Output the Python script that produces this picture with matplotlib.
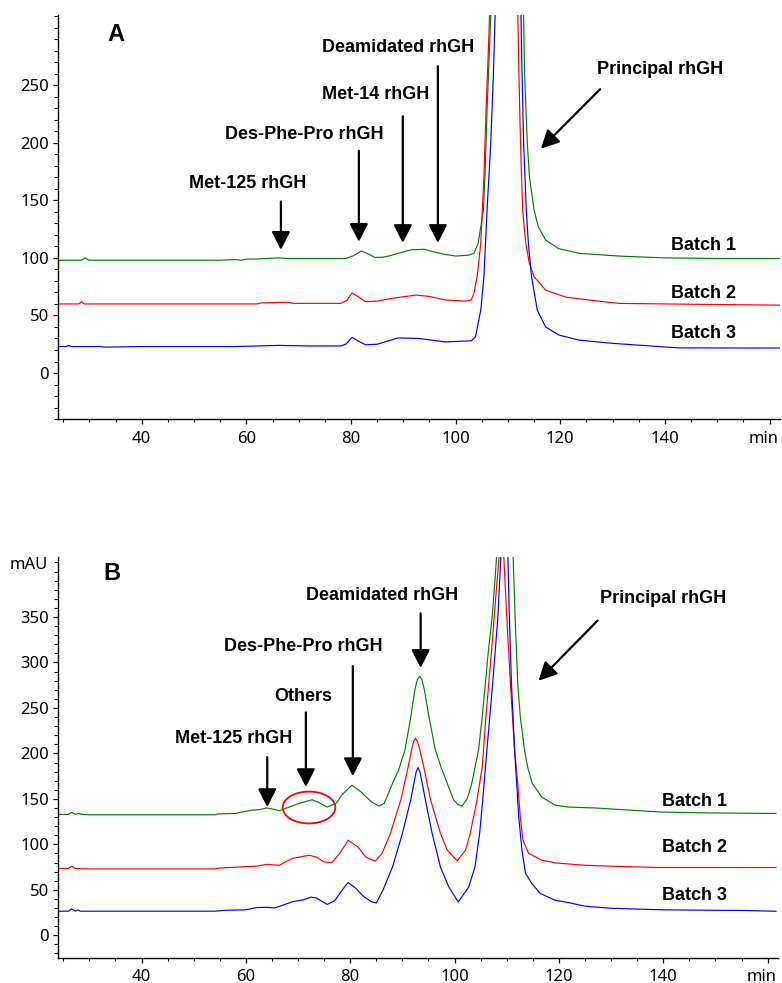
import matplotlib
matplotlib.use("Agg")
from matplotlib import pyplot as plt
from matplotlib.patches import Ellipse
from matplotlib.ticker import MultipleLocator
from matplotlib.transforms import ScaledTranslation

# ---- panel A traces (time in min, absorbance in mAU) ----
a_b1_t = [24, 28.5, 29.2, 29.9, 40, 55, 58, 59, 60, 62, 66, 68, 79, 80.5, 82, 83.5, 84.5, 86,
          87.5, 89, 91.5, 94, 96, 98, 100, 102.5, 103.5, 104.3, 105.3, 105.6, 106, 106.5,
          106.9, 110, 112.9, 113.2, 113.7, 114.1, 115, 115.8, 117.2, 119.7, 123.6, 131.2,
          140, 150, 162]
a_b1_v = [98, 98, 100, 98, 98, 98, 98.5, 98, 99, 99, 100, 99.5, 99.5, 102, 106, 103, 100.5, 100.5,
          102, 104, 107, 107.5, 105, 103, 101.6, 102.4, 104, 112.6, 141.5, 170.5, 228, 286,
          330, 1500, 330, 257, 199, 170.5, 141.5, 127, 115.5, 108, 104, 101.6,
          100, 99.5, 99.5]

a_b2_t = [24, 28, 28.5, 29, 40, 62, 63, 64, 68, 69, 78, 79.2, 80.2, 81.5, 82.8, 85, 88, 92.4,
          95, 98.1, 101.9, 103, 103.5, 104.1, 104.8, 105.4, 105.8, 106.3, 106.6, 109, 111.8,
          112.1, 112.4, 112.8, 113.4, 114.1, 115, 117.2, 121, 125.5, 131.2, 140, 150, 162]
a_b2_v = [60, 60, 62, 60, 60, 60, 61, 61, 61.5, 60.5, 60.5, 63, 69.5, 66, 62, 62.5, 65, 67.7,
          66.5, 63.4, 62.5, 63.4, 69.4, 83.6, 112.6, 170.5, 228, 286, 330, 1500, 330,
          257, 199, 141.5, 112.6, 95, 83.6, 72, 66, 63.4, 60.5, 60, 59.5, 59]

a_b3_t = [24, 25.5, 26, 26.5, 32, 33, 40, 55, 58, 62, 66, 72, 78, 79, 80.2, 81.5, 82.8, 85,
          89, 93, 98, 103, 103.8, 104.8, 105.4, 106, 106.7, 107.2, 107.6, 110, 112.4, 112.7,
          113, 113.5, 113.9, 114.5, 115.6, 117.2, 119.7, 123.6, 129.9, 142.7, 162]
a_b3_v = [23, 23, 24, 23, 23, 22.5, 23, 23, 23, 23.5, 24, 23.5, 23.5, 25, 31, 27.5, 24.5, 25,
          30.5, 30, 27, 28, 31.5, 54.7, 83.6, 141.5, 199, 257, 320, 1500, 330, 257,
          199, 141.5, 112.6, 83.6, 54.7, 40, 33, 28.6, 25.8, 21.8, 21.7]

# ---- panel B traces ----
b_b1_t = [24, 26, 26.6, 27.3, 28, 28.5, 30, 54.3, 54.5, 58, 61.2, 62.5, 64, 65, 66.4, 68.3,
          70.2, 72.7, 74, 75.6, 77.3, 78.5, 80.3, 82, 84, 85.5, 86.5, 88.1, 89.3, 90.5, 91.6,
          92.4, 92.85, 93.3, 93.75, 94.2, 95.1, 96.3, 97.4, 98.6, 99.8, 100.6, 101.4, 102.4,
          103.3, 104.6, 105.3, 105.9, 106.5, 107.2, 107.7, 108.1, 109.6, 111.2, 111.6, 112.1,
          112.6, 113.4, 114, 114.9, 116.7, 119.3, 121.8, 127, 139.6, 150, 161.6]
b_b1_v = [133, 133, 135, 133, 134, 133, 132.5, 132.5, 133.5, 134, 137.6, 138, 140, 139, 137, 141,
          145, 149, 146, 141, 145, 155, 165, 158, 147, 142, 145, 167, 182, 204, 240,
          270, 281, 285, 281, 270, 240, 204, 185, 167, 149, 144, 142, 150,
          167, 204, 240, 277, 314, 350, 387, 420, 1500, 420, 350, 277,
          240, 204, 185, 167, 152, 143, 141, 140, 135.5, 134.5, 134]

b_b2_t = [24, 26, 26.6, 27.3, 30, 54, 55, 62, 64, 66.4, 68.9, 72.1, 73.5, 75, 76.5, 78, 79.6,
          81.5, 83, 84.8, 86.1, 87.7, 89.7, 91.1, 91.8, 92.15, 92.5, 92.9, 93.3, 94.1, 95.4,
          97.3, 98.6, 100.5, 102.1, 103, 104.3, 105.3, 106, 107.1, 108.1, 108.6, 109, 109.4,
          110, 110.7, 111.5, 112.1, 112.6, 113.1, 114.2, 116.7, 119.3, 125, 130, 138.5, 161.6]
b_b2_v = [73.5, 73.5, 76, 73.5, 73, 73, 74, 76, 78, 77, 84.5, 88, 86, 80.6, 80, 90, 104.6,
          97, 86, 81.5, 90, 112, 149, 185, 205, 213, 216.6, 213, 205, 185, 149,
          112, 93.6, 81.9, 93.6, 112, 149, 185, 240, 314, 387, 420, 1500, 420,
          350, 277, 204, 167, 130, 104.6, 90, 82.6, 79.6, 77, 76, 74.6, 74.5]

b_b3_t = [24, 26, 26.6, 27.3, 27.8, 28.3, 30, 54, 56, 60, 62, 64, 65.5, 67, 69, 71, 72.5, 73.5,
          75.6, 77, 78.5, 79.6, 81, 82.5, 84, 85, 86.3, 88.1, 90, 91.6, 92.3, 92.65, 93, 93.35,
          93.7, 94.4, 95.7, 97.3, 98.9, 100.7, 102.7, 103.9, 104.8, 105.4, 106.2, 107.3, 108.3,
          108.9, 109.6, 110.2, 110.5, 110.9, 111.5, 112.3, 112.9, 113.6, 114.8, 116.4, 119.3,
          121.8, 125, 130, 140, 150, 155.8, 161.6]
b_b3_v = [26.5, 26.5, 29, 26.5, 28, 26.5, 26.5, 26.5, 27.5, 28, 30.5, 30.8, 30, 33, 37, 39, 42, 41,
          34, 38, 50, 58, 52, 43, 37, 35.5, 50, 75, 112, 149, 170, 180, 184.5, 180,
          170, 149, 112, 75, 53, 36.7, 53, 75, 112, 149, 204, 277, 350,
          420, 1500, 420, 350, 277, 204, 130, 94, 68, 57, 46, 38.5,
          36, 32, 29.7, 28, 27.5, 27.3, 26.4]

x_ticks = [40, 60, 80, 100, 120, 140, 160]
x_labels = ["40", "60", "80", "100", "120", "140", "min"]
a_y_ticks = [0, 50, 100, 150, 200, 250]
b_y_ticks = [0, 50, 100, 150, 200, 250, 300, 350]
batch_names = ["Batch 1", "Batch 2", "Batch 3"]
colors = ["#008000", "#ff0000", "#0000ff"]

tick_font = "Noto Sans"
lab_font = "Liberation Sans"

fig = plt.figure(figsize=(7.82, 9.83), dpi=100)
ax_a = fig.add_axes([0.0742, 0.5737, 0.9233, 0.4110])
ax_b = fig.add_axes([0.0742, 0.0254, 0.9208, 0.4080])


def style_axis(ax, yticks, ylim, xpad):
    ax.set_xlim(24, 162)
    ax.set_ylim(*ylim)
    ax.set_xticks(x_ticks)
    ax.set_xticklabels(x_labels)
    ax.set_yticks(yticks)
    ax.xaxis.set_minor_locator(MultipleLocator(5))
    ax.yaxis.set_minor_locator(MultipleLocator(10))
    for s in ["top", "right"]:
        ax.spines[s].set_visible(False)
    for s in ["left", "bottom"]:
        ax.spines[s].set_linewidth(1.0)
    ax.tick_params(axis="x", which="major", length=3.6, width=0.9, pad=xpad)
    ax.tick_params(axis="x", which="minor", length=2, width=0.8)
    ax.tick_params(axis="y", which="major", length=3.6, width=0.9, pad=3)
    ax.tick_params(axis="y", which="minor", length=2.6, width=0.8)
    for lab in ax.get_xticklabels() + ax.get_yticklabels():
        lab.set_fontfamily(tick_font)
        lab.set_fontsize(12)
    # pull "min" a little left so it stays inside the figure
    last = ax.get_xticklabels()[-1]
    last.set_transform(last.get_transform() + ScaledTranslation(-4 / 72, 0, fig.dpi_scale_trans))


def arrow(ax, tail, tip):
    ax.annotate("", xy=tip, xytext=tail,
                arrowprops=dict(arrowstyle="-|>,head_length=0.55,head_width=0.28",
                                lw=1.6, color="black", mutation_scale=20,
                                shrinkA=0, shrinkB=0))


def label(ax, x, y, s, ha="center", size=13):
    ax.text(x, y, s, ha=ha, va="center", fontsize=size, fontweight="bold",
            fontfamily=lab_font)


# panel A
for t, v, c in zip([a_b1_t, a_b2_t, a_b3_t], [a_b1_v, a_b2_v, a_b3_v], colors):
    ax_a.plot(t, v, color=c, lw=0.85)
style_axis(ax_a, a_y_ticks, (-40, 311), 5)

label(ax_a, 35, 294, "A", size=17)
label(ax_a, 60.3, 165, "Met-125 rhGH")
arrow(ax_a, (66.6, 149), (66.6, 107))
label(ax_a, 71, 207, "Des-Phe-Pro rhGH")
arrow(ax_a, (81.5, 193), (81.5, 114))
label(ax_a, 84.7, 242, "Met-14 rhGH")
arrow(ax_a, (89.9, 223), (89.9, 113))
label(ax_a, 89, 283, "Deamidated rhGH")
arrow(ax_a, (96.6, 266.5), (96.6, 113))
label(ax_a, 139, 264, "Principal rhGH")
arrow(ax_a, (127.6, 246.5), (116.3, 195))
for name, y in zip(batch_names, [111, 69.4, 34.7]):
    label(ax_a, 141.1, y, name, ha="left")

# panel B
for t, v, c in zip([b_b1_t, b_b2_t, b_b3_t], [b_b1_v, b_b2_v, b_b3_v], colors):
    ax_b.plot(t, v, color=c, lw=0.85)
style_axis(ax_b, b_y_ticks, (-25, 416), 4)

label(ax_b, 34.3, 398, "B", size=17)
label(ax_b, 57.6, 216, "Met-125 rhGH")
arrow(ax_b, (64.1, 196), (64.1, 141))
label(ax_b, 71, 263, "Others")
arrow(ax_b, (71.5, 245), (71.5, 163))
label(ax_b, 71, 318, "Des-Phe-Pro rhGH")
arrow(ax_b, (80.5, 296), (80.5, 175))
label(ax_b, 86.1, 374, "Deamidated rhGH")
arrow(ax_b, (93.5, 354), (93.5, 294))
label(ax_b, 140, 370, "Principal rhGH")
arrow(ax_b, (127.4, 346), (116.1, 280))
for name, y in zip(batch_names, [147, 97, 44]):
    label(ax_b, 139.8, y, name, ha="left")
ax_b.add_patch(Ellipse((72.1, 140.5), 10.1, 35, fill=False, ec="red", lw=1.3))

fig.text(10 / 782, 1 - 565 / 983, "mAU", ha="left", va="center", fontsize=12,
         fontfamily=tick_font)

fig.savefig("out.png", dpi=100)
